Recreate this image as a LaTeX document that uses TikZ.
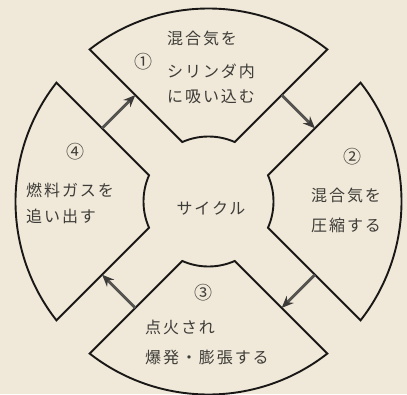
\documentclass[tikz,border=0pt]{standalone}
\usepackage{fontspec}
\usetikzlibrary{arrows.meta}
\newfontfamily\jp[LetterSpace=12]{Noto Sans CJK JP}
\newfontfamily\jpn{Noto Sans CJK JP}
\definecolor{bg}{RGB}{240,233,217}
\definecolor{txt}{RGB}{62,60,56}
\definecolor{ink}{RGB}{25,24,22}
\definecolor{arr}{RGB}{85,83,80}
\tikzset{
  sector/.style={draw=ink, line width=1.9pt, fill=bg, line join=miter},
  flow/.style={draw=arr, line width=2.8pt, -{Stealth[length=12pt,width=10pt,color=ink!85]}},
  tx/.style={anchor=west, inner sep=0pt, text=txt, font=\jp\fontsize{16}{16}\selectfont},
  num/.style={inner sep=0pt, text=txt, font=\jpn\fontsize{18}{18}\selectfont},
}
\begin{document}
\begin{tikzpicture}[x=1pt,y=-1pt]
\fill[bg] (0,0) rectangle (407,394);
\useasboundingbox (0,0) rectangle (407,394);
\begin{scope}[shift={(208.5,201.5)}, y=1pt]
  \foreach \a in {0,90,180,270}{
    \draw[sector, rotate=\a] (-38.01:193pt) arc[start angle=-38.01, end angle=38.01, radius=193pt]
      -- (23.81:65pt) arc[start angle=23.81, end angle=-23.81, radius=65pt] -- cycle;
  }
  \begin{scope}[rotate=45]
    \coordinate (a1s) at (127pt,23.5pt); \coordinate (a1e) at (127pt,-23.5pt);
  \end{scope}
  \begin{scope}[rotate=-45]
    \coordinate (a2s) at (127pt,23.5pt); \coordinate (a2e) at (127pt,-23.5pt);
  \end{scope}
  \begin{scope}[rotate=-135]
    \coordinate (a3s) at (127pt,23.5pt); \coordinate (a3e) at (127pt,-23.5pt);
  \end{scope}
  \begin{scope}[rotate=135]
    \coordinate (a4s) at (127pt,23.5pt); \coordinate (a4e) at (127pt,-23.5pt);
  \end{scope}
\end{scope}
\draw[flow] (a1s) -- (a1e);
\draw[flow] (a2s) -- (a2e);
\draw[flow] (a3s) -- (a3e);
\draw[flow] (a4s) -- (a4e);
% top sector
\node[num] (n1) at (143,62) {①};
\node[tx] (t1a) at (167,38) {混合気を};
\node[tx] (t1b) at (167,71) {シリンダ内};
\node[tx] (t1c) at (167,97) {に吸い込む};
% right sector
\node[num] (n2) at (352,157) {②};
\node[tx] (t2a) at (311,195) {混合気を};
\node[tx] (t2b) at (311,225) {圧縮する};
% bottom sector
\node[num] (n3) at (203,293) {③};
\node[tx] (t3a) at (145,327) {点火され};
\node[tx] (t3b) at (145,357) {爆発・膨張する};
% left sector
\node[num] (n4) at (75,152) {④};
\node[tx] (t4a) at (26,190) {燃料ガスを};
\node[tx] (t4b) at (26,216) {追い出す};
% centre
\node[tx, anchor=center] (c) at (211,208) {サイクル};
\end{tikzpicture}
\end{document}
